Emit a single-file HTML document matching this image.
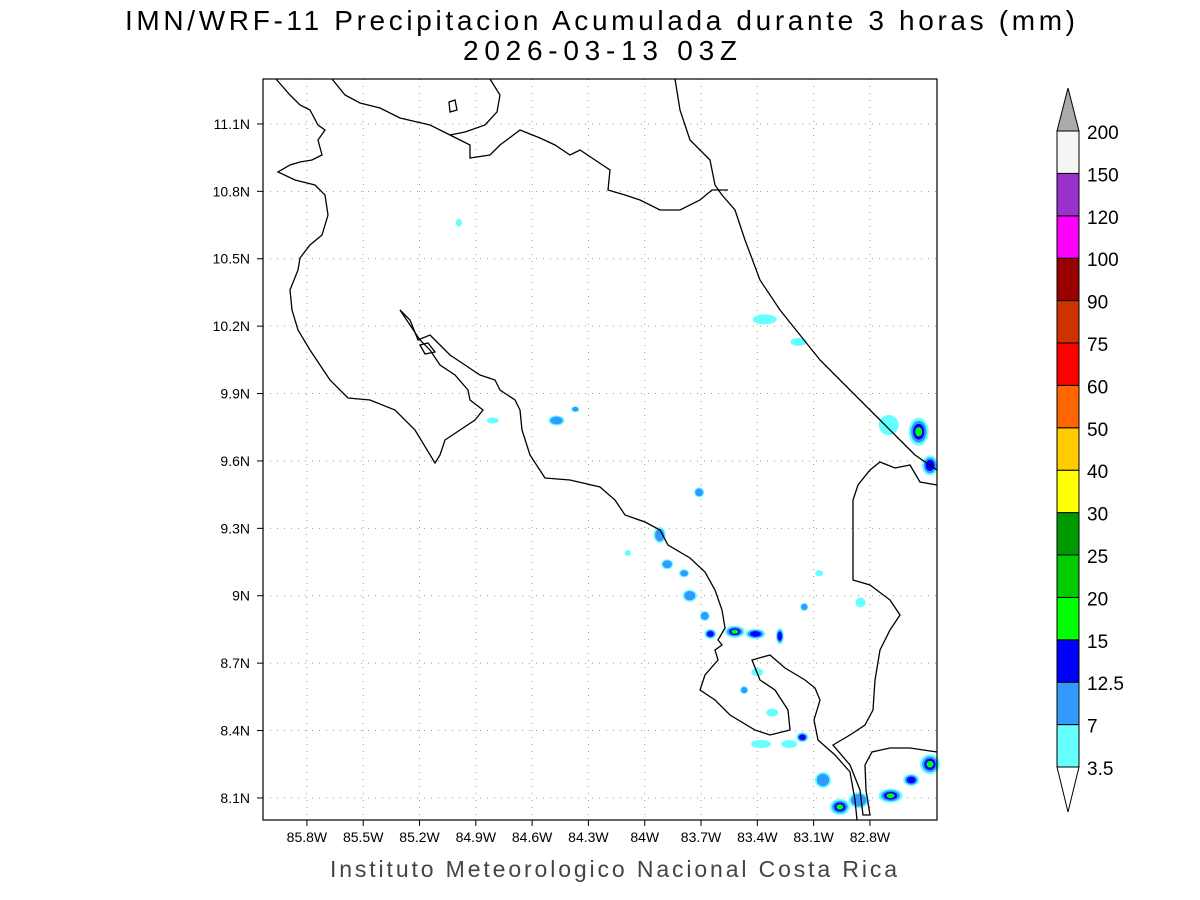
<!DOCTYPE html>
<html><head><meta charset="utf-8"><style>
body{margin:0;background:#fff;}
svg{display:block;font-family:"Liberation Sans",sans-serif;}
</style></head><body>
<svg id="chart" width="1200" height="900" viewBox="0 0 1200 900">
<text x="125" y="30" textLength="950" lengthAdjust="spacing" font-size="28" fill="#000">IMN/WRF-11 Precipitacion Acumulada durante 3 horas (mm)</text>
<text x="463" y="60" textLength="274" lengthAdjust="spacing" font-size="28" fill="#000">2026-03-13 03Z</text>
<g id="grid"></g>
<g id="precip"></g>
<g id="coast" fill="none" stroke="#000" stroke-width="1.3">
<polyline points="276,79 290,95 300,105 310,110 318,125 325,130 318,140 322,155 312,160 300,162 290,165 278,172 295,180 315,185 325,195 328,215 322,235 310,245 300,258 298,270 290,290 292,310 298,330 310,350 330,380 348,398 370,400 395,410 415,430 435,463 440,455 445,440 460,430 475,420 483,410 470,400 468,390 455,375 440,365 430,350 420,340 410,325 400,310"/>
<polyline points="400,310 410,320 418,340 430,335 440,345 450,355 465,365 480,375 495,380 500,390 515,400 520,410 522,430 530,455 545,478 570,480 600,487 615,500 625,515 645,522 660,530 668,545 690,558 705,572 715,590 722,610 725,628 718,640 722,645 715,650 718,660 705,675 700,690 715,700 730,715 755,730 770,735 790,730 788,710 775,690 760,680 752,660 770,655 785,668 805,680 815,688 820,700 814,720 818,740 835,755 850,772 855,800 857,820"/>
<polygon points="420,345 428,343 435,352 425,354"/>
<polygon points="449,102 455,100 457,110 450,112"/>
<polyline points="332,79 345,95 360,103 380,108 400,118 430,125 450,135 470,145 470,158 490,155 500,145 520,130 540,138 555,145 570,155 580,150 595,160 610,170 608,190 625,195 640,200 660,210 680,210 700,200 712,190 728,190"/>
<polyline points="490,79 500,95 497,112 485,125 465,132 450,135"/>
<polyline points="675,79 680,110 690,140 710,160 715,185 722,195 735,210 745,240 760,280 780,310 800,335 820,360 840,380 860,400 880,420 900,440 915,455 937,470"/>
<polyline points="937,485 920,482 910,465 895,468 880,462 870,470 858,485 853,500 853,580 870,585 890,600 900,615 890,630 880,650 875,680 873,710 865,725 850,735 833,745 850,765 860,790 863,815 870,815 866,790 865,765 872,752 890,748 910,748 937,752"/>
</g>
<rect x="263" y="79" width="674" height="741" fill="none" stroke="#000" stroke-width="1.2"/>
<g id="axes" font-size="14" fill="#000"></g>
<g id="cbar"></g>
<text x="330" y="877" textLength="567" lengthAdjust="spacing" font-size="23" fill="#444">Instituto Meteorologico Nacional Costa Rica</text>
</svg>
<script>
const lonTicks=[85.8,85.5,85.2,84.9,84.6,84.3,84,83.7,83.4,83.1,82.8];
const latTicks=[11.1,10.8,10.5,10.2,9.9,9.6,9.3,9.0,8.7,8.4,8.1];
const cbarLevels=["3.5","7","12.5","15","20","25","30","40","50","60","75","90","100","120","150","200"];
const cbarColors=["#66ffff","#3399ff","#0000ff","#00ff00","#00cc00","#009900","#ffff00","#ffcc00","#ff6600","#ff0000","#cc3300","#990000","#ff00ff","#9933cc","#f5f5f5"];
const blobLon=[83.36,83.18,82.70,82.54,82.48,84.47,84.37,84.81,83.71,83.92,83.88,83.79,83.76,83.68,83.65,83.52,83.41,83.28,83.40,83.47,83.32,83.16,83.23,83.38,83.05,82.96,82.86,82.69,82.58,82.48,83.15,83.07,82.85,84.99,84.09];
const blobLat=[10.23,10.13,9.76,9.73,9.58,9.78,9.83,9.78,9.46,9.27,9.14,9.10,9.00,8.91,8.83,8.84,8.83,8.82,8.66,8.58,8.48,8.37,8.34,8.34,8.18,8.06,8.09,8.11,8.18,8.25,8.95,9.10,8.97,10.66,9.19];
const blobLevel=[1,1,1,4,3,2,2,1,2,2,2,2,2,2,3,4,3,3,1,2,1,3,1,1,2,4,2,4,3,4,2,1,1,1,1];
const blobRx=[12,8,10,10,8,8,4,6,5,6,6,5,7,5,6,10,10,4,6,4,6,6,8,10,8,10,10,12,8,10,4,4,5,3,3];
const blobRy=[5,4,10,14,10,5,3,3,5,8,5,4,6,5,5,6,5,8,4,4,4,5,4,4,8,8,8,7,6,10,4,3,5,4,3];
(function(){
const NS="http://www.w3.org/2000/svg";
const X=lon=>263+(86.034-lon)*187.67;
const Y=lat=>79+(11.3-lat)*224.67;
function mk(t,a,p){const e=document.createElementNS(NS,t);for(const k in a)e.setAttribute(k,a[k]);p.appendChild(e);return e;}
const grid=document.getElementById('grid'),axes=document.getElementById('axes');
lonTicks.forEach(l=>{const x=X(l);
 const g=mk('line',{x1:x,x2:x,y1:79,y2:820,stroke:'#999','stroke-dasharray':'1 6'},grid);
 
 
 const tk=mk('line',{x1:x,x2:x,y1:820,y2:826,stroke:'#000'},axes);
 
 
 const t=mk('text',{x:x,y:842,'text-anchor':'middle'},axes);t.textContent=(Math.round(l*10)/10)+'W';
 
 
});
latTicks.forEach(l=>{const y=Y(l);
 const g=mk('line',{x1:263,x2:937,y1:y,y2:y,stroke:'#999','stroke-dasharray':'1 6'},grid);
 
 
 const tk=mk('line',{x1:257,x2:263,y1:y,y2:y,stroke:'#000'},axes);
 
 
 const t=mk('text',{x:250,y:y+5,'text-anchor':'end'},axes);t.textContent=(Math.round(l*10)/10)+'N';
 
 
});
const pr=document.getElementById('precip');
blobLon.forEach((lo,i)=>{const cx=X(lo),cy=Y(blobLat[i]),L=blobLevel[i];
 for(let k=1;k<=L;k++){const s=1-(k-1)*0.22;
  const e=mk('ellipse',{cx:cx,cy:cy,rx:blobRx[i]*s,ry:blobRy[i]*s,fill:cbarColors[k-1]},pr);
  
  
 }});
const cb=document.getElementById('cbar');
const cx0=1057,cw=22,cTop=131,cBot=767,h=(cBot-cTop)/cbarColors.length;
const bt=mk('polygon',{points:`${cx0},${cBot} ${cx0+cw},${cBot} ${cx0+cw/2},${cBot+45}`,fill:'#fff',stroke:'#000'},cb);


const tt=mk('polygon',{points:`${cx0},${cTop} ${cx0+cw},${cTop} ${cx0+cw/2},${cTop-43}`,fill:'#aaaaaa',stroke:'#000'},cb);


cbarColors.forEach((c,i)=>{const r=mk('rect',{x:cx0,y:cBot-(i+1)*h,width:cw,height:h,fill:c,stroke:'#000'},cb);
 
 });
cbarLevels.forEach((v,i)=>{const t=mk('text',{x:1087,y:cBot-i*h+8,'font-size':19},cb);t.textContent=v;
 
 });
})();
</script>
</body></html>
